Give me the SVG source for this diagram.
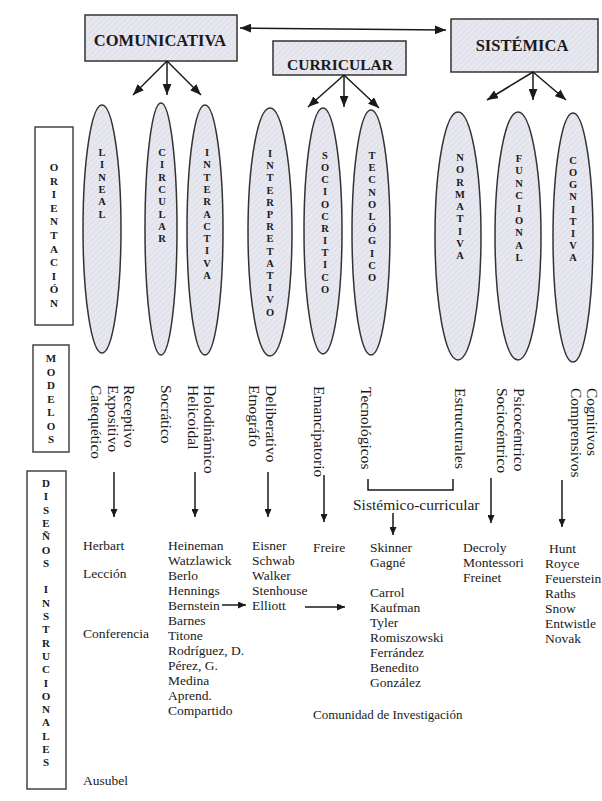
<svg xmlns="http://www.w3.org/2000/svg" width="602" height="801" viewBox="0 0 602 801">
<defs>
<pattern id="hatch" width="4" height="4" patternUnits="userSpaceOnUse" patternTransform="rotate(45)">
<rect width="4" height="4" fill="#e2e2ec"/>
<line x1="0" y1="0" x2="0" y2="4" stroke="#f3f3f8" stroke-width="1.4"/>
</pattern>
<marker id="ah" viewBox="0 0 10 8" refX="10" refY="4" markerWidth="11" markerHeight="9" markerUnits="userSpaceOnUse" orient="auto-start-reverse">
<path d="M0,0 L10,4 L0,8 z" fill="#1a1a1a"/>
</marker>
<marker id="sh" viewBox="0 0 8 7" refX="8" refY="3.5" markerWidth="8" markerHeight="7" markerUnits="userSpaceOnUse" orient="auto">
<path d="M0,0 L8,3.5 L0,7 z" fill="#1a1a1a"/>
</marker>
</defs>
<style>
.hbox{fill:url(#hatch);stroke:#333;stroke-width:1.5}
.ell{fill:url(#hatch);stroke:#333;stroke-width:1.5}
.lbox{fill:#fff;stroke:#444;stroke-width:1.5}
.ht{font-family:"Liberation Serif",serif;font-weight:bold;font-size:16.5px;fill:#1a1a1a;text-anchor:middle}
.st{font-family:"Liberation Serif",serif;font-weight:bold;font-size:10.5px;fill:#1a1a1a;text-anchor:middle}
.mt{font-family:"Liberation Serif",serif;font-size:15.5px;fill:#1a1a1a}
.lt{font-family:"Liberation Serif",serif;font-size:13.5px;fill:#1a1a1a}
.con{stroke:#1a1a1a;stroke-width:1.5;fill:none}
</style>
<rect width="602" height="801" fill="#fff"/>

<g id="comunicativa"><rect class="hbox" x="85" y="15" width="152" height="46"/><text class="ht" x="160" y="46">COMUNICATIVA</text></g>
<g id="curricular"><rect class="hbox" x="273" y="41" width="133" height="34"/><text class="ht" x="340" y="70" style="font-size:15.5px">CURRICULAR</text></g>
<g id="sistemica"><rect class="hbox" x="451" y="19" width="147" height="53"/><text class="ht" x="522" y="51">SISTÉMICA</text></g>

<g id="lineal"><ellipse class="ell" cx="102" cy="229" rx="19" ry="124"/><text class="st"><tspan x="102" y="156">L</tspan><tspan x="102" dy="12.3">I</tspan><tspan x="102" dy="12.3">N</tspan><tspan x="102" dy="12.3">E</tspan><tspan x="102" dy="12.3">A</tspan><tspan x="102" dy="12.3">L</tspan></text></g>
<g id="circular"><ellipse class="ell" cx="161" cy="229" rx="16" ry="126"/><text class="st"><tspan x="162" y="156">C</tspan><tspan x="162" dy="12.3">I</tspan><tspan x="162" dy="12.3">R</tspan><tspan x="162" dy="12.3">C</tspan><tspan x="162" dy="12.3">U</tspan><tspan x="162" dy="12.3">L</tspan><tspan x="162" dy="12.3">A</tspan><tspan x="162" dy="12.3">R</tspan></text></g>
<g id="interactiva"><ellipse class="ell" cx="205" cy="230" rx="18" ry="125"/><text class="st"><tspan x="207" y="156">I</tspan><tspan x="207" dy="12.3">N</tspan><tspan x="207" dy="12.3">T</tspan><tspan x="207" dy="12.3">E</tspan><tspan x="207" dy="12.3">R</tspan><tspan x="207" dy="12.3">A</tspan><tspan x="207" dy="12.3">C</tspan><tspan x="207" dy="12.3">T</tspan><tspan x="207" dy="12.3">I</tspan><tspan x="207" dy="12.3">V</tspan><tspan x="207" dy="12.3">A</tspan></text></g>
<g id="interpretativo"><ellipse class="ell" cx="270" cy="232" rx="22" ry="124"/><text class="st"><tspan x="270" y="157">I</tspan><tspan x="270" dy="12.2">N</tspan><tspan x="270" dy="12.2">T</tspan><tspan x="270" dy="12.2">E</tspan><tspan x="270" dy="12.2">R</tspan><tspan x="270" dy="12.2">P</tspan><tspan x="270" dy="12.2">R</tspan><tspan x="270" dy="12.2">E</tspan><tspan x="270" dy="12.2">T</tspan><tspan x="270" dy="12.2">A</tspan><tspan x="270" dy="12.2">T</tspan><tspan x="270" dy="12.2">I</tspan><tspan x="270" dy="12.2">V</tspan><tspan x="270" dy="12.2">O</tspan></text></g>
<g id="sociocritico"><ellipse class="ell" cx="323" cy="231" rx="19" ry="123"/><text class="st"><tspan x="325" y="159">S</tspan><tspan x="325" dy="12.15">O</tspan><tspan x="325" dy="12.15">C</tspan><tspan x="325" dy="12.15">I</tspan><tspan x="325" dy="12.15">O</tspan><tspan x="325" dy="12.15">C</tspan><tspan x="325" dy="12.15">R</tspan><tspan x="325" dy="12.15">I</tspan><tspan x="325" dy="12.15">T</tspan><tspan x="325" dy="12.15">I</tspan><tspan x="325" dy="12.15">C</tspan><tspan x="325" dy="12.15">O</tspan></text></g>
<g id="tecnologico"><ellipse class="ell" cx="371" cy="232.5" rx="19" ry="122.5"/><text class="st"><tspan x="372" y="159">T</tspan><tspan x="372" dy="12.2">E</tspan><tspan x="372" dy="12.2">C</tspan><tspan x="372" dy="12.2">N</tspan><tspan x="372" dy="12.2">O</tspan><tspan x="372" dy="12.2">L</tspan><tspan x="372" dy="12.2">Ó</tspan><tspan x="372" dy="12.2">G</tspan><tspan x="372" dy="12.2">I</tspan><tspan x="372" dy="12.2">C</tspan><tspan x="372" dy="12.2">O</tspan></text></g>
<g id="normativa"><ellipse class="ell" cx="458" cy="236" rx="23" ry="124"/><text class="st"><tspan x="460" y="161">N</tspan><tspan x="460" dy="12.25">O</tspan><tspan x="460" dy="12.25">R</tspan><tspan x="460" dy="12.25">M</tspan><tspan x="460" dy="12.25">A</tspan><tspan x="460" dy="12.25">T</tspan><tspan x="460" dy="12.25">I</tspan><tspan x="460" dy="12.25">V</tspan><tspan x="460" dy="12.25">A</tspan></text></g>
<g id="funcional"><ellipse class="ell" cx="518" cy="236" rx="23" ry="124"/><text class="st"><tspan x="519" y="162">F</tspan><tspan x="519" dy="12.4">U</tspan><tspan x="519" dy="12.4">N</tspan><tspan x="519" dy="12.4">C</tspan><tspan x="519" dy="12.4">I</tspan><tspan x="519" dy="12.4">O</tspan><tspan x="519" dy="12.4">N</tspan><tspan x="519" dy="12.4">A</tspan><tspan x="519" dy="12.4">L</tspan></text></g>
<g id="cognitiva"><ellipse class="ell" cx="573" cy="237.5" rx="20" ry="124.5"/><text class="st"><tspan x="573" y="164">C</tspan><tspan x="573" dy="12.15">O</tspan><tspan x="573" dy="12.15">G</tspan><tspan x="573" dy="12.15">N</tspan><tspan x="573" dy="12.15">I</tspan><tspan x="573" dy="12.15">T</tspan><tspan x="573" dy="12.15">I</tspan><tspan x="573" dy="12.15">V</tspan><tspan x="573" dy="12.15">A</tspan></text></g>

<g id="orientacion"><rect class="lbox" x="35" y="127" width="38" height="198"/><text class="st" style="font-size:11px"><tspan x="54" y="171">O</tspan><tspan x="54" dy="13.6">R</tspan><tspan x="54" dy="13.6">I</tspan><tspan x="54" dy="13.6">E</tspan><tspan x="54" dy="13.6">N</tspan><tspan x="54" dy="13.6">T</tspan><tspan x="54" dy="13.6">A</tspan><tspan x="54" dy="13.6">C</tspan><tspan x="54" dy="13.6">I</tspan><tspan x="54" dy="13.6">Ó</tspan><tspan x="54" dy="13.6">N</tspan></text></g>
<g id="modelos"><rect class="lbox" x="33" y="345" width="36" height="107"/><text class="st" style="font-size:11px"><tspan x="51" y="362">M</tspan><tspan x="51" dy="13.5">O</tspan><tspan x="51" dy="13.5">D</tspan><tspan x="51" dy="13.5">E</tspan><tspan x="51" dy="13.5">L</tspan><tspan x="51" dy="13.5">O</tspan><tspan x="51" dy="13.5">S</tspan></text></g>
<g id="disenos"><rect class="lbox" x="27" y="471" width="39" height="318"/><text class="st" style="font-size:11px"><tspan x="46" y="487">D</tspan><tspan x="46" dy="13.3">I</tspan><tspan x="46" dy="13.3">S</tspan><tspan x="46" dy="13.3">E</tspan><tspan x="46" dy="13.3">Ñ</tspan><tspan x="46" dy="13.3">O</tspan><tspan x="46" dy="13.3">S</tspan><tspan x="46" dy="26.6">I</tspan><tspan x="46" dy="13.3">N</tspan><tspan x="46" dy="13.3">S</tspan><tspan x="46" dy="13.3">T</tspan><tspan x="46" dy="13.3">R</tspan><tspan x="46" dy="13.3">U</tspan><tspan x="46" dy="13.3">C</tspan><tspan x="46" dy="13.3">I</tspan><tspan x="46" dy="13.3">O</tspan><tspan x="46" dy="13.3">N</tspan><tspan x="46" dy="13.3">A</tspan><tspan x="46" dy="13.3">L</tspan><tspan x="46" dy="13.3">E</tspan><tspan x="46" dy="13.3">S</tspan></text></g>

<g id="modelos-textos">
<text class="mt" transform="translate(124,385) rotate(90)">Receptivo</text>
<text class="mt" transform="translate(108,385) rotate(90)">Expositivo</text>
<text class="mt" transform="translate(91,385) rotate(90)">Catequético</text>
<text class="mt" transform="translate(161,385) rotate(90)">Socrático</text>
<text class="mt" transform="translate(204,385) rotate(90)">Holodinámico</text>
<text class="mt" transform="translate(188,385) rotate(90)">Helicoidal</text>
<text class="mt" transform="translate(266,385) rotate(90)">Deliberativo</text>
<text class="mt" transform="translate(249,385) rotate(90)">Etnográfo</text>
<text class="mt" transform="translate(314,386) rotate(90)">Emancipatorio</text>
<text class="mt" transform="translate(361,387) rotate(90)">Tecnológicos</text>
<text class="mt" transform="translate(455,388) rotate(90)">Estructurales</text>
<text class="mt" transform="translate(514,388) rotate(90)">Psicocéntrico</text>
<text class="mt" transform="translate(497,388) rotate(90)">Sociocéntrico</text>
<text class="mt" transform="translate(587,388) rotate(90)">Cognitivos</text>
<text class="mt" transform="translate(571,388) rotate(90)">Comprensivos</text>
<text class="mt" x="353" y="510">Sistémico-curricular</text>
</g>

<g id="disenos-textos">
<text class="lt" x="83" y="550">Herbart</text>
<text class="lt" x="83" y="578">Lección</text>
<text class="lt" x="83" y="638">Conferencia</text>
<text class="lt" x="83" y="785">Ausubel</text>
<text class="lt"><tspan x="168" y="550">Heineman</tspan><tspan x="168" dy="15">Watzlawick</tspan><tspan x="168" dy="15">Berlo</tspan><tspan x="168" dy="15">Hennings</tspan><tspan x="168" dy="15">Bernstein</tspan><tspan x="168" dy="15">Barnes</tspan><tspan x="168" dy="15">Titone</tspan><tspan x="168" dy="15">Rodríguez, D.</tspan><tspan x="168" dy="15">Pérez, G.</tspan><tspan x="168" dy="15">Medina</tspan><tspan x="168" dy="15">Aprend.</tspan><tspan x="168" dy="15">Compartido</tspan></text>
<text class="lt"><tspan x="252" y="550">Eisner</tspan><tspan x="252" dy="15">Schwab</tspan><tspan x="252" dy="15">Walker</tspan><tspan x="252" dy="15">Stenhouse</tspan><tspan x="252" dy="15">Elliott</tspan></text>
<text class="lt" x="313" y="552">Freire</text>
<text class="lt"><tspan x="370" y="552">Skinner</tspan><tspan x="370" dy="15">Gagné</tspan></text>
<text class="lt"><tspan x="370" y="597">Carrol</tspan><tspan x="370" dy="15">Kaufman</tspan><tspan x="370" dy="15">Tyler</tspan><tspan x="370" dy="15">Romiszowski</tspan><tspan x="370" dy="15">Ferrández</tspan><tspan x="370" dy="15">Benedito</tspan><tspan x="370" dy="15">González</tspan></text>
<text class="lt"><tspan x="463" y="552">Decroly</tspan><tspan x="463" dy="15">Montessori</tspan><tspan x="463" dy="15">Freinet</tspan></text>
<text class="lt"><tspan x="549" y="553">Hunt</tspan><tspan x="545" dy="15">Royce</tspan><tspan x="545" dy="15">Feuerstein</tspan><tspan x="545" dy="15">Raths</tspan><tspan x="545" dy="15">Snow</tspan><tspan x="545" dy="15">Entwistle</tspan><tspan x="545" dy="15">Novak</tspan></text>
<text class="lt" x="313" y="719" style="font-size:13px">Comunidad de Investigación</text>
</g>

<g id="connectors">
<line class="con" x1="240" y1="28" x2="446" y2="30" marker-start="url(#ah)" marker-end="url(#ah)"/>
<line class="con" x1="167" y1="61" x2="133" y2="95" marker-end="url(#ah)"/>
<line class="con" x1="167" y1="61" x2="167" y2="95" marker-end="url(#ah)"/>
<line class="con" x1="167" y1="61" x2="201" y2="95" marker-end="url(#ah)"/>
<line class="con" x1="344" y1="75" x2="308" y2="107" marker-end="url(#ah)"/>
<line class="con" x1="344" y1="75" x2="344" y2="107" marker-end="url(#ah)"/>
<line class="con" x1="344" y1="75" x2="379" y2="108" marker-end="url(#ah)"/>
<line class="con" x1="533" y1="72" x2="487" y2="100" marker-end="url(#ah)"/>
<line class="con" x1="533" y1="72" x2="533" y2="100" marker-end="url(#ah)"/>
<line class="con" x1="533" y1="72" x2="566" y2="100" marker-end="url(#ah)"/>
<line class="con" x1="114" y1="472" x2="114" y2="517" marker-end="url(#sh)"/>
<line class="con" x1="195" y1="472" x2="195" y2="517" marker-end="url(#sh)"/>
<line class="con" x1="268" y1="472" x2="268" y2="517" marker-end="url(#sh)"/>
<line class="con" x1="324" y1="475" x2="324" y2="522" marker-end="url(#sh)"/>
<polyline class="con" points="368,479 368,490 453,490 453,479"/>
<line class="con" x1="393" y1="513" x2="393" y2="535" marker-end="url(#sh)"/>
<line class="con" x1="491" y1="478" x2="491" y2="523" marker-end="url(#sh)"/>
<line class="con" x1="562" y1="480" x2="562" y2="527" marker-end="url(#sh)"/>
<line class="con" x1="222" y1="605" x2="246" y2="605" marker-end="url(#sh)"/>
<line class="con" x1="305" y1="607" x2="345" y2="607" marker-end="url(#sh)"/>
</g>
</svg>
